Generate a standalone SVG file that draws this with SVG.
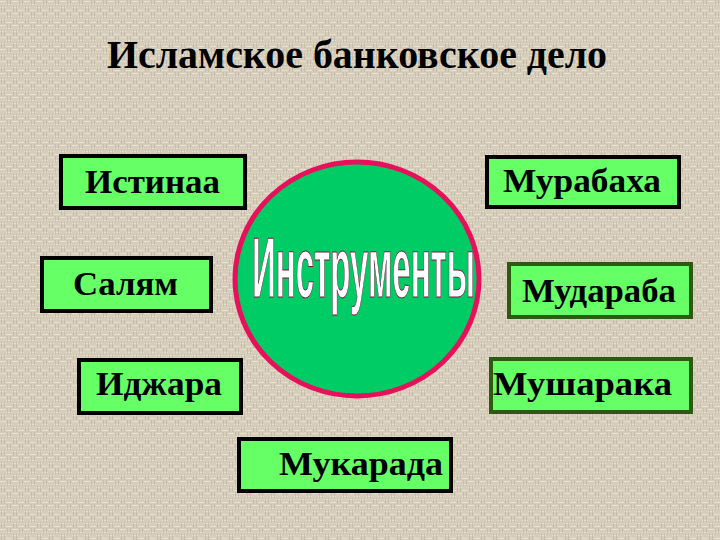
<svg xmlns="http://www.w3.org/2000/svg" width="720" height="540" viewBox="0 0 720 540">
  <defs>
    <pattern id="linen" width="12" height="12" patternUnits="userSpaceOnUse">
      <rect width="12" height="12" fill="#d7cdbb"/>
      <path d="M0 1.5H6M6 4.5H12M0 7.5H6M6 10.5H12" stroke="#e6dece" stroke-width="1"/>
      <path d="M1.5 6V12M4.5 6V12M7.5 0V6M10.5 0V6" stroke="#c2b6a2" stroke-width="1" opacity="0.7"/>
    </pattern>
    <style>
      .box { fill: #66ff66; stroke: #000; stroke-width: 4; }
      .boxg { fill: #66ff66; stroke: #2d5a10; stroke-width: 4; }
      .lbl { font-family: "Liberation Serif", "Times New Roman", serif; font-weight: bold; font-size: 34px; fill: #000; text-anchor: start; }
      .title { font-family: "Liberation Serif", "Times New Roman", serif; font-weight: bold; font-size: 40px; fill: #000; }
      .word { font-family: "Liberation Sans", Arial, sans-serif; font-weight: bold; font-size: 86px; fill: #ffffff; stroke: #7a1040; stroke-width: 1; }
    </style>
  </defs>
  <rect width="720" height="540" fill="url(#linen)"/>
  <text class="title" x="107" y="68" textLength="500" lengthAdjust="spacingAndGlyphs">Исламское банковское дело</text>

  <g id="center">
    <ellipse cx="357" cy="279" rx="122" ry="117" fill="#00cc66" stroke="#e8105a" stroke-width="5"/>
    <text class="word" x="252" y="297" textLength="223" lengthAdjust="spacingAndGlyphs">Инструменты</text>
  </g>

  <g id="connectors"></g>

  <g id="istinaa">
    <rect class="box" x="61" y="156" width="184" height="52"/>
    <text class="lbl" x="85" y="193" textLength="135" lengthAdjust="spacingAndGlyphs">Истинаа</text>
  </g>
  <g id="murabaha">
    <rect class="box" x="487" y="157" width="192" height="50"/>
    <text class="lbl" x="503" y="192" textLength="158" lengthAdjust="spacingAndGlyphs">Мурабаха</text>
  </g>
  <g id="salyam">
    <rect class="box" x="42" y="258" width="169" height="53"/>
    <text class="lbl" x="73" y="295" textLength="105" lengthAdjust="spacingAndGlyphs">Салям</text>
  </g>
  <g id="mudaraba">
    <rect class="boxg" x="509" y="264" width="182" height="53"/>
    <text class="lbl" x="522" y="302" textLength="154" lengthAdjust="spacingAndGlyphs">Мудараба</text>
  </g>
  <g id="idzhara">
    <rect class="box" x="79" y="360" width="162" height="53"/>
    <text class="lbl" x="96" y="395" textLength="126" lengthAdjust="spacingAndGlyphs">Иджара</text>
  </g>
  <g id="musharaka">
    <rect class="boxg" x="491" y="359" width="200" height="53"/>
    <text class="lbl" x="493" y="395" textLength="179" lengthAdjust="spacingAndGlyphs">Мушарака</text>
  </g>
  <g id="mukarada">
    <rect class="box" x="239" y="439" width="212" height="52"/>
    <text class="lbl" x="279" y="475" textLength="164" lengthAdjust="spacingAndGlyphs">Мукарада</text>
  </g>
</svg>
